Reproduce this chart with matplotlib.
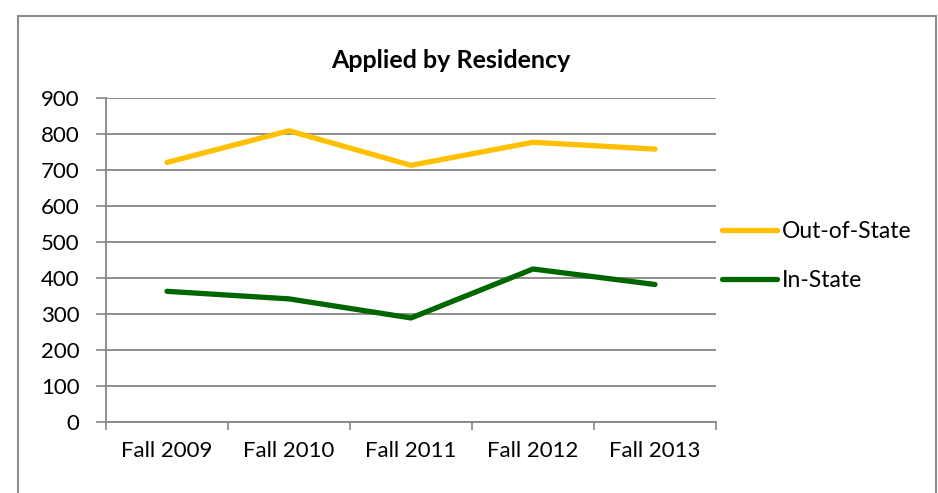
import matplotlib
matplotlib.use("Agg")
import matplotlib.pyplot as plt
from matplotlib.patches import Rectangle

categories = ["Fall 2009", "Fall 2010", "Fall 2011", "Fall 2012", "Fall 2013"]
out_of_state = [721, 809, 713, 777, 758]
in_state = [363, 342, 289, 425, 382]
y_ticks = [0, 100, 200, 300, 400, 500, 600, 700, 800, 900]

plt.rcParams['font.family'] = ['Lato', 'DejaVu Sans']

W, H = 938, 493
fig = plt.figure(figsize=(W / 100, H / 100), dpi=100)
fig.patch.set_facecolor('white')

# chart border
fig.add_artist(Rectangle((18 / W, -0.05), (936 - 18) / W, 1 - 16 / H + 0.05,
                         transform=fig.transFigure, fill=False,
                         edgecolor='#8c8c8c', linewidth=1.5))

ax = fig.add_axes([106 / W, 1 - 422 / H, (716 - 106) / W, (422 - 98) / H])
x = list(range(len(categories)))
ax.plot(x, out_of_state, color='#FFC000', linewidth=3.8, solid_capstyle='round',
        solid_joinstyle='round', label='Out-of-State', zorder=3)
ax.plot(x, in_state, color='#006600', linewidth=3.8, solid_capstyle='round',
        solid_joinstyle='round', label='In-State', zorder=3)

ax.set_xlim(-0.5, len(categories) - 0.5)
ax.set_ylim(0, 900)
ax.set_yticks(y_ticks)
ax.set_yticklabels([str(v) for v in y_ticks], fontsize=16)
ax.set_xticks(x)
ax.set_xticklabels(categories, fontsize=16)
ax.tick_params(axis='x', length=0, pad=14)
ax.set_xticks([i - 0.5 for i in range(len(categories) + 1)], minor=True)
ax.tick_params(axis='x', which='minor', length=6, color='#868686', width=1.2)
ax.tick_params(axis='y', length=7, color='#868686', width=1.2, pad=12)
ax.grid(axis='y', color='#868686', linewidth=1.3, zorder=1)
for s in ['top', 'right']:
    ax.spines[s].set_visible(False)
for s in ['left', 'bottom']:
    ax.spines[s].set_color('#868686')
    ax.spines[s].set_linewidth(1.3)

fig.text(451 / W, 1 - 61 / H, "Applied by Residency", fontsize=18,
         fontweight='bold', ha='center', va='center')

leg = fig.legend(loc='upper left', bbox_to_anchor=(713 / W, 1 - 212 / H),
                 frameon=False, fontsize=16.5, handlelength=2.4, handletextpad=0.2,
                 labelspacing=1.2, borderaxespad=0)

fig.savefig("out.png", dpi=100)
